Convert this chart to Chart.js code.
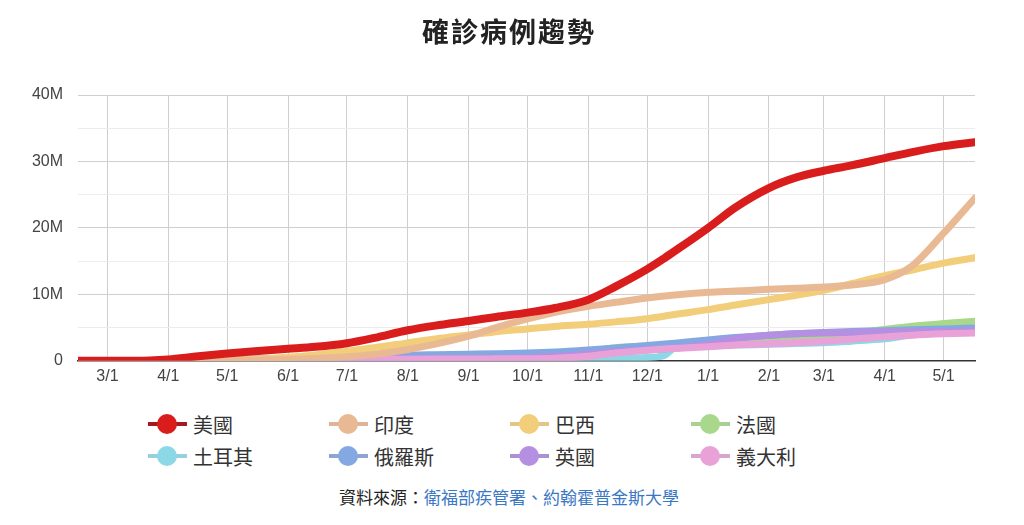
<!DOCTYPE html>
<html>
<head>
<meta charset="utf-8">
<script src="https://cdn.jsdelivr.net/npm/chart.js@4"></script>
<style>
  body { margin: 0; background: #fff; font-family: "Noto Sans CJK TC", sans-serif; }
  #title {
    position: absolute; left: 0; top: 14px; width: 1018px; z-index: 2;
    text-align: center; font-size: 27px; line-height: 34px; font-weight: bold;
    letter-spacing: 2px; color: #222;
  }
  #wrap { position: relative; width: 1024px; height: 399px; }
  #legend {
    display: grid;
    grid-template-columns: repeat(4, 181px);
    padding-left: 148px;
    margin-top: 9px;
  }
  .item { display: flex; align-items: center; height: 32px; font-size: 20px; color: #333; }
  .mark { position: relative; width: 39px; height: 20px; margin-right: 6px; }
  .mark .ln { position: absolute; left: 0; top: 8px; width: 39px; height: 4px; }
  .mark .dot { position: absolute; left: 9px; top: 0; width: 20px; height: 20px; border-radius: 50%; }
  #source { text-align: center; margin-top: 14px; margin-left: -6px; font-size: 17px; line-height: 22px; color: #222; }
  #source span { color: #3a78c4; }
</style>
</head>
<body>
<div id="title">確診病例趨勢</div>
<div id="wrap"><canvas id="chart"></canvas></div>
<div id="legend"></div>
<div id="source">資料來源：<span>衛福部疾管署、約翰霍普金斯大學</span></div>
<script>
// 日期 (累計確診, 單位: 百萬)
const dates = ['2020-02-15','2020-03-01','2020-03-15','2020-04-01','2020-04-15','2020-05-01','2020-05-15',
  '2020-06-01','2020-06-15','2020-07-01','2020-07-15','2020-08-01','2020-08-15','2020-09-01','2020-09-15',
  '2020-10-01','2020-10-15','2020-11-01','2020-11-15','2020-12-01','2020-12-10','2020-12-15',
  '2021-01-01','2021-01-15','2021-02-01','2021-02-15','2021-03-01','2021-03-15','2021-04-01','2021-04-15',
  '2021-05-01','2021-05-17'];

const usa    = [0,0,0.003,0.21,0.64,1.1,1.45,1.8,2.1,2.65,3.45,4.6,5.3,6.0,6.6,7.25,7.95,9.2,11.2,13.8,15.5,16.5,20.0,23.1,26.0,27.6,28.6,29.4,30.5,31.4,32.3,32.9];
const india  = [0,0,0,0.002,0.012,0.037,0.085,0.19,0.34,0.6,0.97,1.7,2.5,3.7,5.0,6.3,7.3,8.2,8.8,9.46,9.76,9.9,10.3,10.5,10.75,10.9,11.1,11.4,12.2,14.3,19.2,24.5];
const brazil = [0,0,0.0002,0.006,0.028,0.09,0.22,0.53,0.89,1.45,1.97,2.7,3.3,3.9,4.38,4.8,5.17,5.5,5.86,6.34,6.73,6.97,7.7,8.4,9.2,9.87,10.6,11.6,12.8,13.67,14.7,15.5];
const france = [0,0,0.005,0.057,0.134,0.168,0.179,0.189,0.195,0.203,0.211,0.225,0.252,0.3,0.4,0.6,0.85,1.4,1.98,2.22,2.35,2.42,2.7,2.93,3.26,3.51,3.78,4.14,4.73,5.2,5.6,5.95];
const turkey = [0,0,0.0002,0.015,0.069,0.122,0.146,0.164,0.179,0.2,0.215,0.23,0.246,0.27,0.29,0.32,0.35,0.38,0.42,0.51,0.85,1.9,2.2,2.36,2.48,2.6,2.7,2.95,3.3,3.9,4.5,4.8];
const russia = [0,0,0.00006,0.0028,0.025,0.114,0.26,0.41,0.54,0.65,0.75,0.85,0.92,1.0,1.07,1.18,1.34,1.64,1.93,2.3,2.52,2.65,3.13,3.5,3.85,4.07,4.26,4.4,4.54,4.67,4.8,4.93];
const uk     = [0,0,0.0011,0.03,0.1,0.18,0.24,0.28,0.3,0.31,0.29,0.3,0.32,0.34,0.37,0.46,0.67,1.03,1.37,1.65,1.79,1.89,2.5,3.33,3.83,4.07,4.19,4.27,4.36,4.39,4.42,4.55];
const italy  = [0,0.0017,0.025,0.11,0.165,0.207,0.224,0.233,0.237,0.241,0.244,0.248,0.254,0.27,0.29,0.31,0.38,0.68,1.18,1.6,1.79,1.86,2.13,2.37,2.55,2.74,2.94,3.24,3.6,3.86,4.06,4.2];

const monthTicks = ['2020-03-01','2020-04-01','2020-05-01','2020-06-01','2020-07-01','2020-08-01','2020-09-01',
  '2020-10-01','2020-11-01','2020-12-01','2021-01-01','2021-02-01','2021-03-01','2021-04-01','2021-05-01'];
const xTickLabels = ['3/1','4/1','5/1','6/1','7/1','8/1','9/1','10/1','11/1','12/1','1/1','2/1','3/1','4/1','5/1'];
const yTickLabels = ['0','10M','20M','30M','40M'];

const names  = ['美國','印度','巴西','法國','土耳其','俄羅斯','英國','義大利'];
const series = [usa, india, brazil, france, turkey, russia, uk, italy];
const colors = ['#d91d1d','#e9b994','#f2cd7a','#a9d78b','#8cd8e6','#84a9e2','#b590e2','#e8a2d8'];
const legendLine = ['#a51a22','#dcb49a','#e2c587','#a8cf94','#96d0dc','#8ea6cf','#ab93cf','#d7a6ce'];
const drawOrder = [0, 1, 2, 7, 6, 5, 4, 3];

function dayNum(s) {
  const p = s.split('-').map(Number);
  return (Date.UTC(p[0], p[1] - 1, p[2]) - Date.UTC(2020, 2, 1)) / 864e5;
}
const xs = dates.map(dayNum);
const tickDays = monthTicks.map(dayNum);

const datasets = names.map((n, i) => ({
  label: n,
  data: series[i].map((v, j) => ({ x: xs[j], y: v * 1e6 })),
  borderColor: colors[i],
  backgroundColor: colors[i],
  borderWidth: i === 0 ? 8 : 7,
  borderCapStyle: 'round',
  borderJoinStyle: 'round',
  pointRadius: 0,
  cubicInterpolationMode: 'monotone',
  order: drawOrder[i]
}));

const tickFont = { family: 'Liberation Sans, Arial', size: 16 };

const chart = new Chart(document.getElementById('chart'), {
  type: 'line',
  data: { datasets: datasets },
  options: {
    responsive: true,
    maintainAspectRatio: false,
    animation: false,
    layout: { padding: { left: 0, right: 49, top: 95, bottom: 7 } },
    scales: {
      x: {
        type: 'linear',
        min: xs[0],
        max: xs[xs.length - 1],
        afterBuildTicks: (scale) => { scale.ticks = tickDays.map(v => ({ value: v })); },
        grid: { color: '#cfcfcf', drawTicks: false, tickLength: 0 },
        border: { display: true, color: '#333', width: 1.5 },
        ticks: {
          padding: 6,
          color: '#444',
          font: tickFont,
          maxRotation: 0,
          autoSkip: false,
          callback: (v, i) => xTickLabels[i]
        }
      },
      y: {
        min: 0,
        max: 40e6,
        afterFit: (scale) => { scale.width = 78; },
        grid: {
          drawTicks: false,
          tickLength: 0,
          color: (ctx) => (ctx.tick && ctx.tick.value % 10e6 === 0) ? '#cfcfcf' : '#ececec'
        },
        border: { display: false },
        ticks: {
          stepSize: 5e6,
          padding: 15,
          color: '#444',
          font: tickFont,
          callback: (v) => v % 10e6 === 0 ? yTickLabels[v / 10e6] : ''
        }
      }
    },
    plugins: {
      legend: { display: false },
      tooltip: { enabled: false },
      title: { display: false }
    }
  }
});

// 圖例
const legendEl = document.getElementById('legend');
chart.data.datasets.forEach((ds, i) => {
  const item = document.createElement('div');
  item.className = 'item';
  item.innerHTML = '<div class="mark"><div class="ln" style="background:' + legendLine[i] +
    '"></div><div class="dot" style="background:' + ds.borderColor + '"></div></div>' + ds.label;
  legendEl.appendChild(item);
});
</script>
</body>
</html>
